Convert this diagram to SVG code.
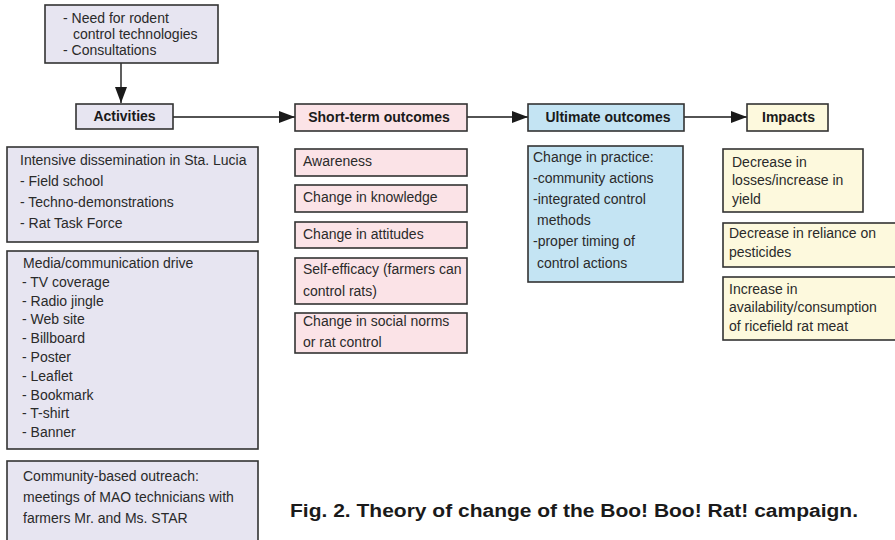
<svg xmlns="http://www.w3.org/2000/svg" width="895" height="540" viewBox="0 0 895 540">
<defs>
<marker id="ah" markerWidth="16" markerHeight="12" refX="16" refY="6" orient="auto" markerUnits="userSpaceOnUse">
<path d="M0,0 L16,6 L0,12 Z" fill="#1a1a1a"/>
</marker>
<style>
rect{stroke:#333;stroke-width:1.6}
.lav{fill:#e7e5f1}
.pink{fill:#fbe3e7}
.blue{fill:#c4e4f3}
.yel{fill:#fdf9dd}
text{font-family:"Liberation Sans",Arial,sans-serif;font-size:14px;fill:#2a2a2a}
.h{font-weight:bold;font-size:14px;text-anchor:middle;fill:#1a1a1a}
.cap{font-weight:bold;font-size:18px;fill:#1a1a1a}
.c{stroke:#1a1a1a;stroke-width:1.4;fill:none}
</style>
</defs>
<g id="connectors">
<line class="c" x1="121" y1="63" x2="121" y2="103" marker-end="url(#ah)"/>
<line class="c" x1="173" y1="117" x2="295" y2="117" marker-end="url(#ah)"/>
<line class="c" x1="467" y1="117" x2="528" y2="117" marker-end="url(#ah)"/>
<line class="c" x1="684" y1="117" x2="747" y2="117" marker-end="url(#ah)"/>
</g>
<g id="need">
<rect class="lav" x="45" y="5" width="173" height="58"/>
<text x="63" y="23">- Need for rodent</text>
<text x="73" y="39">control technologies</text>
<text x="63" y="55">- Consultations</text>
</g>
<g id="activities">
<rect class="lav" x="76" y="104" width="97" height="25"/>
<text class="h" x="124.5" y="121">Activities</text>
</g>
<g id="short-term">
<rect class="pink" x="295" y="104" width="172" height="27"/>
<text class="h" x="379" y="122">Short-term outcomes</text>
</g>
<g id="ultimate">
<rect class="blue" x="528" y="104" width="156" height="27"/>
<text class="h" x="608" y="122">Ultimate outcomes</text>
</g>
<g id="impacts">
<rect class="yel" x="747" y="104" width="81" height="27"/>
<text class="h" x="788.5" y="122">Impacts</text>
</g>
<g id="intensive">
<rect class="lav" x="7" y="147" width="251" height="95"/>
<text x="20" y="165">Intensive dissemination in Sta. Lucia</text>
<text x="20" y="186">- Field school</text>
<text x="20" y="207">- Techno-demonstrations</text>
<text x="20" y="228">- Rat Task Force</text>
</g>
<g id="media">
<rect class="lav" x="7" y="251" width="251" height="198"/>
<text x="23" y="268">Media/communication drive</text>
<text x="22" y="287">- TV coverage</text>
<text x="22" y="306">- Radio jingle</text>
<text x="22" y="324">- Web site</text>
<text x="22" y="343">- Billboard</text>
<text x="22" y="362">- Poster</text>
<text x="22" y="381">- Leaflet</text>
<text x="22" y="400">- Bookmark</text>
<text x="22" y="418">- T-shirt</text>
<text x="22" y="437">- Banner</text>
</g>
<g id="community">
<rect class="lav" x="7" y="461" width="251" height="90"/>
<text x="23" y="481">Community-based outreach:</text>
<text x="23" y="502">meetings of MAO technicians with</text>
<text x="23" y="523">farmers Mr. and Ms. STAR</text>
</g>
<g id="awareness">
<rect class="pink" x="295" y="149" width="172" height="27"/>
<text x="303" y="166">Awareness</text>
</g>
<g id="knowledge">
<rect class="pink" x="295" y="185" width="172" height="27"/>
<text x="303" y="202">Change in knowledge</text>
</g>
<g id="attitudes">
<rect class="pink" x="295" y="222" width="172" height="26"/>
<text x="303" y="239">Change in attitudes</text>
</g>
<g id="self-efficacy">
<rect class="pink" x="295" y="258" width="172" height="46"/>
<text x="303" y="274">Self-efficacy (farmers can</text>
<text x="303" y="296">control rats)</text>
</g>
<g id="social-norms">
<rect class="pink" x="295" y="313" width="172" height="40"/>
<text x="303" y="326">Change in social norms</text>
<text x="303" y="347">or rat control</text>
</g>
<g id="practice">
<rect class="blue" x="528" y="146" width="155" height="136"/>
<text x="533" y="162">Change in practice:</text>
<text x="533" y="183">-community actions</text>
<text x="533" y="204">-integrated control</text>
<text x="537" y="225">methods</text>
<text x="533" y="246">-proper timing of</text>
<text x="537" y="268">control actions</text>
</g>
<g id="losses">
<rect class="yel" x="723" y="149" width="140" height="63"/>
<text x="732" y="167">Decrease in</text>
<text x="732" y="185">losses/increase in</text>
<text x="732" y="204">yield</text>
</g>
<g id="pesticides">
<rect class="yel" x="723" y="223" width="180" height="44"/>
<text x="729" y="238">Decrease in reliance on</text>
<text x="729" y="257">pesticides</text>
</g>
<g id="ratmeat">
<rect class="yel" x="723" y="277" width="180" height="63"/>
<text x="729" y="294">Increase in</text>
<text x="729" y="312">availability/consumption</text>
<text x="729" y="331">of ricefield rat meat</text>
</g>
<text class="cap" x="290" y="517" textLength="568" lengthAdjust="spacingAndGlyphs">Fig. 2. Theory of change of the Boo! Boo! Rat! campaign.</text>
</svg>
